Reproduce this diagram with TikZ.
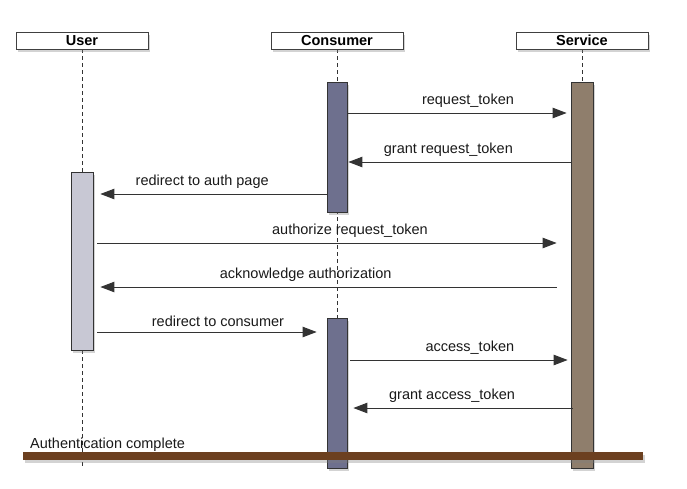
\documentclass[tikz,border=0pt]{standalone}
\usepackage{fontspec}
\setmainfont{Liberation Sans}
\usetikzlibrary{arrows.meta,shadows}

\definecolor{userbar}{RGB}{200,200,212}
\definecolor{consbar}{RGB}{110,112,142}
\definecolor{servbar}{RGB}{143,126,108}
\definecolor{donebar}{RGB}{108,64,32}

\tikzset{
  softshadow/.style={drop shadow={opacity=0.35, shadow xshift=2pt, shadow yshift=-3pt}},
  actor/.style={draw=black!75, fill=white, minimum width=132pt, minimum height=17pt,
    inner sep=0pt, font=\bfseries\fontsize{14.5}{15}\selectfont, softshadow},
  lifeline/.style={dash pattern=on 4pt off 3pt, line width=0.7pt, black!80},
  actbar/.style={draw=black!80, line width=0.8pt, inner sep=0pt, softshadow},
  msg/.style={-{Triangle[length=14pt,width=10.5pt]}, line width=0.9pt, black!80},
  msglabel/.style={above=2pt, pos=0.55, font=\fontsize{14.5}{15}\selectfont, text=black!90}
}

\begin{document}
\begin{tikzpicture}[x=1pt, y=-1pt]
    \useasboundingbox (0,0) rectangle (687,488);

    % Lifelines
    \draw[lifeline] (82,49) -- (82,468);
    \draw[lifeline] (337,49) -- (337,468);
    \draw[lifeline] (582,49) -- (582,468);

    % Actors
    \node[actor] (user) at (82,40.5) {User};
    \node[actor] (consumer) at (337,40.5) {Consumer};
    \node[actor] (service) at (582,40.5) {Service};

    % Activation bars
    \node[actbar, fill=userbar, minimum width=22pt, minimum height=178pt] (ubar) at (82,261) {};
    \node[actbar, fill=consbar, minimum width=20pt, minimum height=130pt] (cbarA) at (337,147) {};
    \node[actbar, fill=consbar, minimum width=20pt, minimum height=150pt] (cbarB) at (337,393) {};
    \node[actbar, fill=servbar, minimum width=22pt, minimum height=386pt] (sbar) at (582,275) {};

    % Messages
    \draw[msg] (cbarA.east |- 0,113) -- ([xshift=-4pt]sbar.west |- 0,113)
        node[msglabel] (m1) {request\_token};
    \draw[msg] (sbar.west |- 0,162) -- ([xshift=1pt]cbarA.east |- 0,162)
        node[msglabel] (m2) {grant request\_token};
    \draw[msg] (cbarA.west |- 0,194) -- ([xshift=7pt]ubar.east |- 0,194)
        node[msglabel] (m3) {redirect to auth page};
    \draw[msg] ([xshift=4pt]ubar.east |- 0,243) -- ([xshift=-14pt]sbar.west |- 0,243)
        node[msglabel] (m4) {authorize request\_token};
    \draw[msg] ([xshift=-14pt]sbar.west |- 0,287) -- ([xshift=7pt]ubar.east |- 0,287)
        node[msglabel] (m5) {acknowledge authorization};
    \draw[msg] ([xshift=4pt]ubar.east |- 0,332) -- ([xshift=-10pt]cbarB.west |- 0,332)
        node[msglabel] (m6) {redirect to consumer};
    \draw[msg] ([xshift=3pt]cbarB.east |- 0,360) -- ([xshift=-3pt]sbar.west |- 0,360)
        node[msglabel] (m7) {access\_token};
    \draw[msg] ([xshift=2pt]sbar.west |- 0,408) -- ([xshift=6pt]cbarB.east |- 0,408)
        node[msglabel] (m8) {grant access\_token};

    % Authentication complete
    \fill[donebar, softshadow] (23,452) rectangle (643,460);
    \node[anchor=base west, inner sep=0pt, font=\fontsize{14.5}{15}\selectfont, text=black!90]
        (done) at (30,448) {Authentication complete};
\end{tikzpicture}
\end{document}
